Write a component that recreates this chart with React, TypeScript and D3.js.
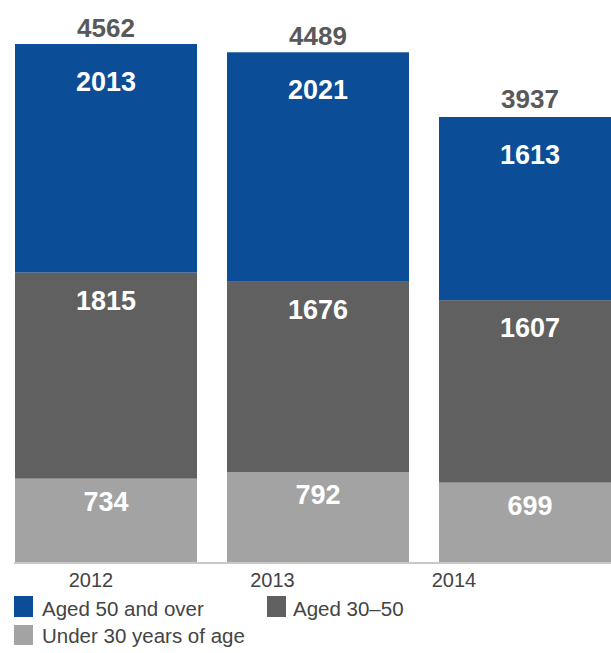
import React from "react";
import * as d3 from "d3";

const years = ["2012", "2013", "2014"];
const under30 = [734, 792, 699];
const aged30to50 = [1815, 1676, 1607];
const aged50plus = [2013, 2021, 1613];
const totals = [4562, 4489, 3937];
const seriesNames = ["Aged 50 and over", "Aged 30–50", "Under 30 years of age"];

const W = 611;
const H = 653;
const BLUE = "#0c4d97";
const DARK = "#606060";
const LIGHT = "#a3a3a3";

export default function App() {
  const x = d3.scaleBand<string>().domain(years).range([15, 621]).paddingInner(0.1415).paddingOuter(0);
  const xLab = d3.scalePoint<string>().domain(years).range([91, 454]);
  const y = d3.scaleLinear().domain([0, 4562]).range([562, 44]);

  const rows = years.map((yr, i) => ({
    year: yr,
    under30: under30[i],
    mid: aged30to50[i],
    old: aged50plus[i],
  }));
  const stack = d3.stack<any>().keys(["under30", "mid", "old"]);
  const series = stack(rows);
  const colors = [LIGHT, DARK, BLUE];
  const labelOffsets = [32, 37, 47];
  const font = "'Liberation Sans', Arial, sans-serif";

  return (
    <svg width={W} height={H} style={{ position: "absolute", left: 0, top: 0, background: "#fff" }} fontFamily={font}>
      {series.map((s, si) => (
        <g key={si}>
          {s.map((d, i) => {
            const x0 = x(years[i])!;
            const top = y(d[1]);
            const bot = y(d[0]);
            return (
              <g key={i}>
                <rect x={x0} y={top} width={x.bandwidth()} height={bot - top} fill={colors[si]} />
                <text
                  x={x0 + x.bandwidth() / 2}
                  y={top + labelOffsets[si]}
                  textAnchor="middle"
                  fill="#fff"
                  fontWeight="bold"
                  fontSize={27}
                >
                  {d[1] - d[0]}
                </text>
              </g>
            );
          })}
        </g>
      ))}
      {years.map((yr, i) => (
        <text
          key={"t" + yr}
          x={x(yr)! + x.bandwidth() / 2}
          y={y(totals[i]) - 7}
          textAnchor="middle"
          fill="#595959"
          fontWeight="bold"
          fontSize={26}
        >
          {totals[i]}
        </text>
      ))}
      <line x1={14} x2={W} y1={y(0) + 1} y2={y(0) + 1} stroke="#c8c8c8" strokeWidth={2} />
      {years.map((yr) => (
        <text key={"x" + yr} x={xLab(yr)} y={587} textAnchor="middle" fill="#444" fontSize={20}>
          {yr}
        </text>
      ))}
      <g>
        <rect x={14} y={596} width={19} height={21} fill={BLUE} />
        <text x={42} y={616} fill="#444" fontSize={20.5}>{seriesNames[0]}</text>
        <rect x={267} y={596} width={19} height={21} fill={DARK} />
        <text x={293} y={616} fill="#444" fontSize={20.5}>{seriesNames[1]}</text>
        <rect x={14} y={625} width={19} height={20} fill={LIGHT} />
        <text x={42} y={643} fill="#444" fontSize={20.5}>{seriesNames[2]}</text>
      </g>
    </svg>
  );
}
